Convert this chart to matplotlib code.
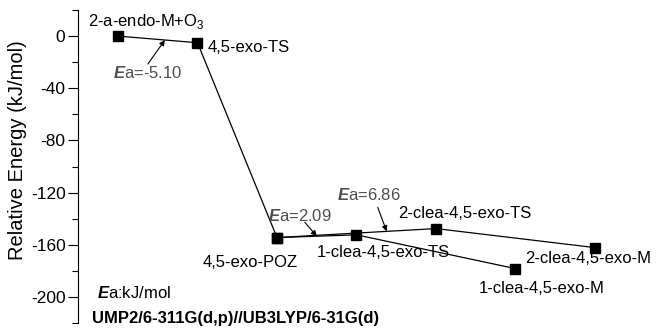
import matplotlib
matplotlib.use("Agg")
import matplotlib.pyplot as plt
from matplotlib.ticker import MultipleLocator

plt.rcParams['font.family'] = ['Liberation Sans', 'DejaVu Sans']
plt.rcParams['axes.unicode_minus'] = False
plt.rcParams['mathtext.fontset'] = 'custom'
plt.rcParams['mathtext.rm'] = 'Liberation Sans'
plt.rcParams['mathtext.bfit'] = 'Liberation Sans:italic:bold'

# ---- data ----
species = ["2-a-endo-M+O$_\\mathrm{3}$", "4,5-exo-TS", "4,5-exo-POZ", "1-clea-4,5-exo-TS",
           "2-clea-4,5-exo-TS", "1-clea-4,5-exo-M", "2-clea-4,5-exo-M"]
stage_x = [1, 2, 3, 4, 5, 6, 7]
energy = [0.0, -5.10, -154.5, -152.4, -147.6, -178.3, -162.2]
path_a = [0, 1, 2, 3, 5]      # indices into species
path_b = [2, 4, 6]
ea_labels = ["-5.10", "2.09", "6.86"]
ea_segments = [(0, 1), (2, 3), (2, 4)]
ea_fraction = [0.59, 0.5, 0.69]
yticks = [0, -40, -80, -120, -160, -200]

# ---- figure ----
W, H = 661, 329
fig = plt.figure(figsize=(W / 100, H / 100), dpi=100)
ax = fig.add_axes([78 / W, 1 - 323 / H, (659 - 78) / W, (323 - 10) / H])

for path in (path_a, path_b):
    ax.plot([stage_x[i] for i in path], [energy[i] for i in path],
            color='black', lw=0.9, marker='s', ms=7.5, mfc='black', mec='black',
            zorder=3)

ax.set_xlim(0.497, 7.805)
ax.set_ylim(-220, 20)
ax.set_yticks(yticks)
ax.yaxis.set_minor_locator(MultipleLocator(20))
ax.tick_params(axis='y', which='major', direction='out', length=7, width=0.8,
               labelsize=12.5, pad=2)
ax.tick_params(axis='y', which='minor', direction='out', length=4, width=0.8)
ax.set_xticks([])
for s in ('top', 'right', 'bottom'):
    ax.spines[s].set_visible(False)
ax.spines['left'].set_linewidth(0.8)

fig.text(18 / W, 1 - 150 / H, "Relative Energy (kJ/mol)", rotation=90,
         ha='center', va='center', fontsize=14.5)

# species labels (pixel offsets from the point)
label_offsets = [(-30, 15), (10, -5), (-74, -25), (-40, -18), (-38, 15),
                 (-37, -20), (-70, -11)]
for i, name in enumerate(species):
    ax.annotate(name, xy=(stage_x[i], energy[i]), xytext=label_offsets[i],
                textcoords='offset pixels', ha='left', va='center', fontsize=12)

# Ea annotations
arrow_tails = [(-17, -24), (-12, 14), (-9, 24)]
ea_text_offsets = [(-52, -33), (-49, 20), (-50, 36)]
ea_color = '#4d4d4d'
for lab, (a, b), f, tail, toff in zip(ea_labels, ea_segments, ea_fraction,
                                       arrow_tails, ea_text_offsets):
    px = stage_x[a] + f * (stage_x[b] - stage_x[a])
    py = energy[a] + f * (energy[b] - energy[a])
    ax.annotate('', xy=(px, py), xytext=tail, textcoords='offset pixels',
                arrowprops=dict(arrowstyle='-|>', color='black', lw=0.8,
                                mutation_scale=8, shrinkA=0, shrinkB=0))
    ax.annotate('$\\mathbfit{E}$a=' + lab, xy=(px, py), xytext=toff,
                textcoords='offset pixels', ha='left', va='center',
                fontsize=12, color=ea_color)

# unit / method notes
fig.text(97 / W, 1 - 293 / H, '$\\mathbfit{E}$a:kJ/mol', ha='left', va='center',
         fontsize=12)
fig.text(92 / W, 1 - 318 / H, "UMP2/6-311G(d,p)//UB3LYP/6-31G(d)",
         ha='left', va='center', fontsize=12, fontweight='bold')

fig.savefig("out.png", dpi=100)
